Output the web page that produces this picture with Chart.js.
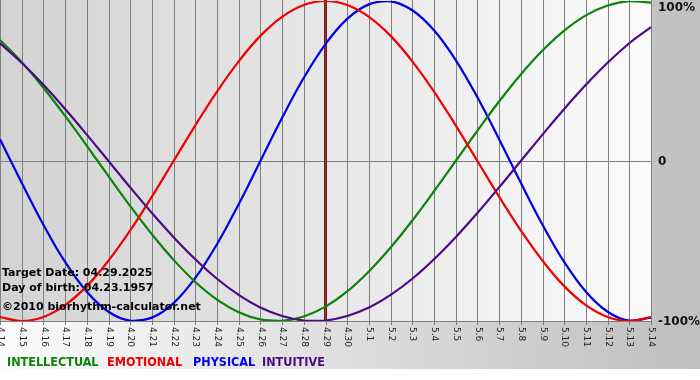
<!DOCTYPE html>
<html>
<head>
<meta charset="utf-8">
<script src="https://cdn.jsdelivr.net/npm/chart.js@4.4.1/dist/chart.umd.min.js"></script>
<style>
  html, body { margin: 0; padding: 0; background: #fff; }
  #wrap { width: 700px; height: 380px; }
</style>
</head>
<body>
<div id="wrap"><canvas id="bio" width="700" height="380"></canvas></div>
<script>
// days shown on the x axis
const days = ['4.14', '4.15', '4.16', '4.17', '4.18', '4.19', '4.20', '4.21', '4.22', '4.23',
  '4.24', '4.25', '4.26', '4.27', '4.28', '4.29', '4.30', '5.1', '5.2', '5.3', '5.4', '5.5',
  '5.6', '5.7', '5.8', '5.9', '5.10', '5.11', '5.12', '5.13', '5.14'];

// cycle values in percent, one per day
const intellectual = [75.6, 61.8, 45.8, 28.2, 9.5, -9.5, -28.2, -45.8, -61.8, -75.6, -86.6,
  -94.5, -99.0, -99.9, -97.2, -91.0, -81.5, -69.0, -54.1, -37.2, -18.9, 0, 18.9, 37.2, 54.1,
  69.0, 81.5, 91.0, 97.2, 99.9, 99.0];
const emotional = [-97.5, -100, -97.5, -90.1, -78.2, -62.3, -43.4, -22.3, 0, 22.3, 43.4, 62.3,
  78.2, 90.1, 97.5, 100, 97.5, 90.1, 78.2, 62.3, 43.4, 22.3, 0, -22.3, -43.4, -62.3, -78.2,
  -90.1, -97.5, -100, -97.5];
const physical = [13.6, -13.6, -39.8, -63.1, -81.7, -94.2, -99.8, -97.9, -88.8, -73.1, -52.0,
  -27.0, 0, 27.0, 52.0, 73.1, 88.8, 97.9, 99.8, 94.2, 81.7, 63.1, 39.8, 13.6, -13.6, -39.8,
  -63.1, -81.7, -94.2, -99.8, -97.9];
const intuitive = [73.6, 61.4, 47.6, 32.5, 16.5, 0, -16.5, -32.5, -47.6, -61.4, -73.6, -83.7,
  -91.6, -96.9, -99.7, -99.7, -96.9, -91.6, -83.7, -73.6, -61.4, -47.6, -32.5, -16.5, 0, 16.5,
  32.5, 47.6, 61.4, 73.6, 83.7];

const yTicks = [100, 0, -100];
const yTickText = ['100%', '0', '-100%'];
const targetDay = '4.29';
const infoLines = ['Target Date: 04.29.2025', 'Day of birth: 04.23.1957'];
const credit = '\u00a92010 biorhythm-calculator.net';

const legendNames = ['INTELLECTUAL', 'EMOTIONAL', 'PHYSICAL', 'INTUITIVE'];
const legendX = [7, 107, 193, 262];
const COLORS = {
  INTELLECTUAL: '#0a840a',
  EMOTIONAL: '#f00000',
  PHYSICAL: '#0000e6',
  INTUITIVE: '#4b0a86',
};

const GRID = '#7f7f7f';

// backgrounds, grid, target line
const backdrop = {
  id: 'backdrop',
  beforeDatasetsDraw(chart) {
    const { ctx, chartArea: a, scales: { x, y } } = chart;
    ctx.save();

    let g = ctx.createLinearGradient(0, 0, chart.width, 0);
    g.addColorStop(0, '#fbfbfb');
    g.addColorStop(1, '#bfbfbf');
    ctx.fillStyle = g;
    ctx.fillRect(0, 0, chart.width, 369);

    g = ctx.createLinearGradient(a.left, 0, a.right, 0);
    g.addColorStop(0, '#d3d3d3');
    g.addColorStop(1, '#fbfbfb');
    ctx.fillStyle = g;
    ctx.fillRect(a.left, 0, a.right - a.left, a.bottom);

    ctx.strokeStyle = GRID;
    ctx.lineWidth = 1;
    ctx.beginPath();
    days.forEach((d, i) => {
      const px = Math.round(x.getPixelForValue(i)) + 0.5;
      ctx.moveTo(px, 0);
      ctx.lineTo(px, a.bottom + 4);
    });
    [0, -100].forEach(v => {
      const py = Math.round(y.getPixelForValue(v)) + 0.5;
      ctx.moveTo(a.left, py);
      ctx.lineTo(a.right + 1, py);
    });
    ctx.stroke();

    const tx = x.getPixelForValue(days.indexOf(targetDay));
    ctx.strokeStyle = '#6e1414';
    ctx.lineWidth = 3;
    ctx.beginPath();
    ctx.moveTo(tx, 0);
    ctx.lineTo(tx, a.bottom);
    ctx.stroke();
    ctx.strokeStyle = '#a33a3a';
    ctx.lineWidth = 1;
    ctx.beginPath();
    ctx.moveTo(tx, 0);
    ctx.lineTo(tx, a.bottom);
    ctx.stroke();
    ctx.restore();
  },
  afterDatasetsDraw(chart) {
    const { ctx, chartArea: a, scales: { x, y } } = chart;
    ctx.save();

    // rotated day labels
    ctx.fillStyle = '#222';
    ctx.font = '9px "DejaVu Sans"';
    ctx.textAlign = 'left';
    ctx.textBaseline = 'middle';
    days.forEach((d, i) => {
      ctx.save();
      ctx.translate(x.getPixelForValue(i) + 0.5, a.bottom + 6);
      ctx.rotate(Math.PI / 2);
      ctx.fillText(d, 0, 0);
      ctx.restore();
    });

    // percent labels on the right
    ctx.fillStyle = '#111';
    ctx.font = 'bold 12px "DejaVu Sans"';
    yTicks.forEach((v, i) => {
      const py = Math.max(y.getPixelForValue(v), 7) + 1;
      ctx.fillText(yTickText[i], a.right + 7, py);
    });

    // info text
    ctx.textBaseline = 'alphabetic';
    ctx.fillStyle = '#000';
    ctx.font = 'bold 11px "DejaVu Sans"';
    ctx.fillText(infoLines[0], 2, 276);
    ctx.fillText(infoLines[1], 2, 291);
    ctx.fillText(credit, 2, 310);

    // legend
    ctx.font = 'bold 12.5px "DejaVu Sans Condensed", "DejaVu Sans"';
    legendNames.forEach((n, i) => {
      ctx.fillStyle = COLORS[n];
      ctx.fillText(n, legendX[i], 366);
    });
    ctx.restore();
  },
};

const lineSet = (label, data, order) => ({
  label,
  data,
  borderColor: COLORS[label],
  borderWidth: 2.2,
  pointRadius: 0,
  tension: 0.4,
  fill: false,
  order,
});

new Chart(document.getElementById('bio'), {
  type: 'line',
  data: {
    labels: days,
    datasets: [
      lineSet('INTELLECTUAL', intellectual, 3),
      lineSet('EMOTIONAL', emotional, 2),
      lineSet('PHYSICAL', physical, 4),
      lineSet('INTUITIVE', intuitive, 1),
    ],
  },
  options: {
    responsive: false,
    animation: false,
    devicePixelRatio: 1,
    layout: { padding: { left: 0, top: 1, right: 49, bottom: 59 } },
    plugins: { legend: { display: false }, tooltip: { enabled: false } },
    scales: {
      x: { display: false, offset: false },
      y: { display: false, min: -100, max: 100 },
    },
  },
  plugins: [backdrop],
});
</script>
</body>
</html>
